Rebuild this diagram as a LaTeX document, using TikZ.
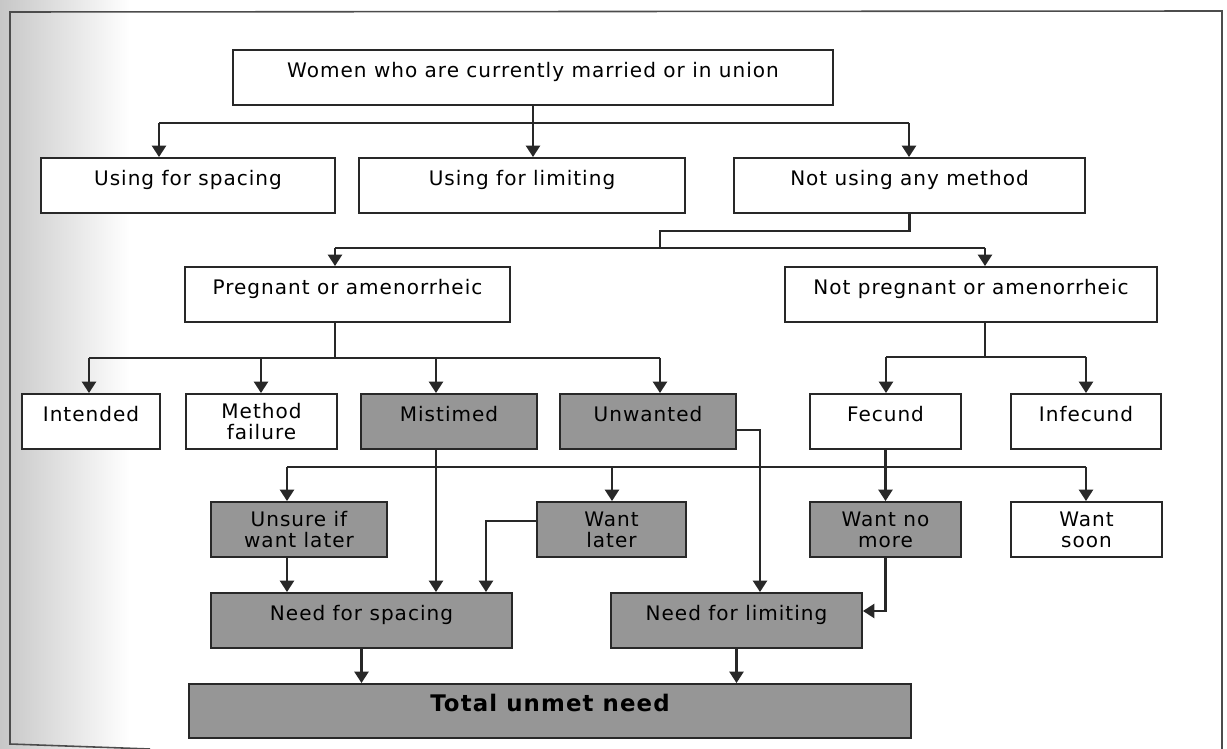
\documentclass[tikz,border=0pt]{standalone}
\usepackage{fontspec}
\newfontfamily\boxfont{DejaVu Sans}[LetterSpace=5.0]
\usepackage{xcolor}
\usetikzlibrary{arrows.meta}
\definecolor{boxgrey}{RGB}{150,150,150}
\definecolor{linegrey}{RGB}{40,40,40}

\begin{document}
\begin{tikzpicture}
  [
    x=0.02cm, y=-0.02cm,
    cell/.style={
      draw=linegrey,
      line width=1.1pt,
      fill=white,
      inner sep=0pt,
      minimum height=1.1cm,
      text height=8pt,
      text depth=8pt,
      font=\boxfont\fontsize{11.4}{11.8}\selectfont
    },
    greycell/.style={cell, fill=boxgrey},
    twoline/.style={align=center, text height={}, text depth={}},
    bus/.style={draw=linegrey, line width=1.35pt},
    ld/.style={bus, -{Triangle[length=6.5pt,width=8pt]}}
  ]
  \useasboundingbox (0,0) rectangle (1227,749);
  \shade[left color=black!22, right color=white] (0,0) rectangle (130,749);
  \draw[draw=black!70, line width=0.9pt] (150,749) -- (10,744) -- (10,12) -- (1222,11) -- (1222,749);

  \node (a1) at (533,77.5)   [cell, minimum width=12cm]   {Women who are currently married or in union};

  \node (b1) at (188,185.5)  [cell, minimum width=5.88cm] {Using for spacing};
  \node (b2) at (522,185.5)  [cell, minimum width=6.52cm] {Using for limiting};
  \node (b3) at (909.5,185.5)[cell, minimum width=7.02cm] {Not using any method};

  \node (c1) at (347.5,294.5)[cell, minimum width=6.5cm]  {Pregnant or amenorrheic};
  \node (c2) at (971,294.5)  [cell, minimum width=7.44cm] {Not pregnant or amenorrheic};

  \node (d1) at (91,421.5)   [cell, minimum width=2.76cm]              {Intended};
  \node (d2) at (261.5,421.5)[cell, twoline, minimum width=3.02cm]     {Method\\failure};
  \node (d3) at (449,421.5)  [greycell, minimum width=3.52cm]          {Mistimed};
  \node (d4) at (648,421.5)  [greycell, minimum width=3.52cm]          {Unwanted};
  \node (d5) at (885.5,421.5)[cell, minimum width=3.02cm]              {Fecund};
  \node (d6) at (1086,421.5) [cell, minimum width=3cm]                 {Infecund};

  \node (e1) at (299,529.5)  [greycell, twoline, minimum width=3.52cm] {Unsure if\\want later};
  \node (e2) at (611.5,529.5)[greycell, twoline, minimum width=2.98cm] {Want\\later};
  \node (e3) at (885.5,529.5)[greycell, twoline, minimum width=3.02cm] {Want no\\more};
  \node (e4) at (1086.5,529.5)[cell, twoline, minimum width=3.02cm]    {Want\\soon};

  \node (f1) at (361.5,620.5)[greycell, minimum width=6.02cm] {Need for spacing};
  \node (f2) at (736.5,620.5)[greycell, minimum width=5.02cm] {Need for limiting};

  \node (g1) at (550,711) [greycell, minimum width=14.44cm, minimum height=1.08cm,
    font=\boxfont\bfseries\fontsize{13}{15}\selectfont] {Total unmet need};

  % junction points of the bus lines
  \coordinate (ab1) at (159,123);
  \coordinate (ab3) at (909,123);
  \coordinate (bk)  at (660,231);
  \coordinate (bc1) at (335,248);
  \coordinate (bc2) at (985,248);
  \coordinate (cd1) at (89,358);
  \coordinate (cd2) at (261,358);
  \coordinate (cd3) at (436,358);
  \coordinate (cd4) at (660,358);
  \coordinate (cd5) at (886,357);
  \coordinate (cd6) at (1086,357);
  \coordinate (de1) at (287,467);
  \coordinate (de2) at (612,467);
  \coordinate (de4) at (1086,467);
  \coordinate (ef)  at (486,521);
  \coordinate (df)  at (760,430);
  \coordinate (ff)  at (886,611);

  \draw[bus] (ab1) -- (ab3);
  \draw[ld] (a1.south) -- (a1.south |- b2.north);
  \draw[ld] (ab1) -- (ab1 |- b1.north);
  \draw[ld] (ab3) -- (ab3 |- b3.north);

  \draw[bus] (b3.south) |- (bk) -- (bk |- bc1);
  \draw[bus] (bc1) -- (bc2);
  \draw[ld] (bc1) -- (bc1 |- c1.north);
  \draw[ld] (bc2) -- (bc2 |- c2.north);

  \draw[bus] (c1.south -| bc1) -- (bc1 |- cd1);
  \draw[bus] (cd1) -- (cd4);
  \draw[ld] (cd1) -- (cd1 |- d1.north);
  \draw[ld] (cd2) -- (cd2 |- d2.north);
  \draw[ld] (cd3) -- (cd3 |- d3.north);
  \draw[ld] (cd4) -- (cd4 |- d4.north);

  \draw[bus] (c2.south -| bc2) -- (bc2 |- cd5);
  \draw[bus] (cd5) -- (cd6);
  \draw[ld] (cd5) -- (cd5 |- d5.north);
  \draw[ld] (cd6) -- (cd6 |- d6.north);

  \draw[bus] (de1) -- (de4);
  \draw[ld] (de1) -- (de1 |- e1.north);
  \draw[ld] (de2) -- (de2 |- e2.north);
  \draw[ld] (de4) -- (de4 |- e4.north);
  \draw[ld] (d5.south) -- (e3.north);

  \draw[ld] (d3.south -| cd3) -- (cd3 |- f1.north);
  \draw[ld] (e1.south -| de1) -- (de1 |- f1.north);
  \draw[ld] (e2.west |- ef) -- (ef) -- (ef |- f1.north);
  \draw[ld] (d4.east |- df) -- (df) -- (df |- f2.north);
  \draw[ld] (e3.south) |- (f2.east |- ff);

  \draw[ld] (f1.south) -- (f1.south |- g1.north);
  \draw[ld] (f2.south) -- (f2.south |- g1.north);
\end{tikzpicture}
\end{document}
